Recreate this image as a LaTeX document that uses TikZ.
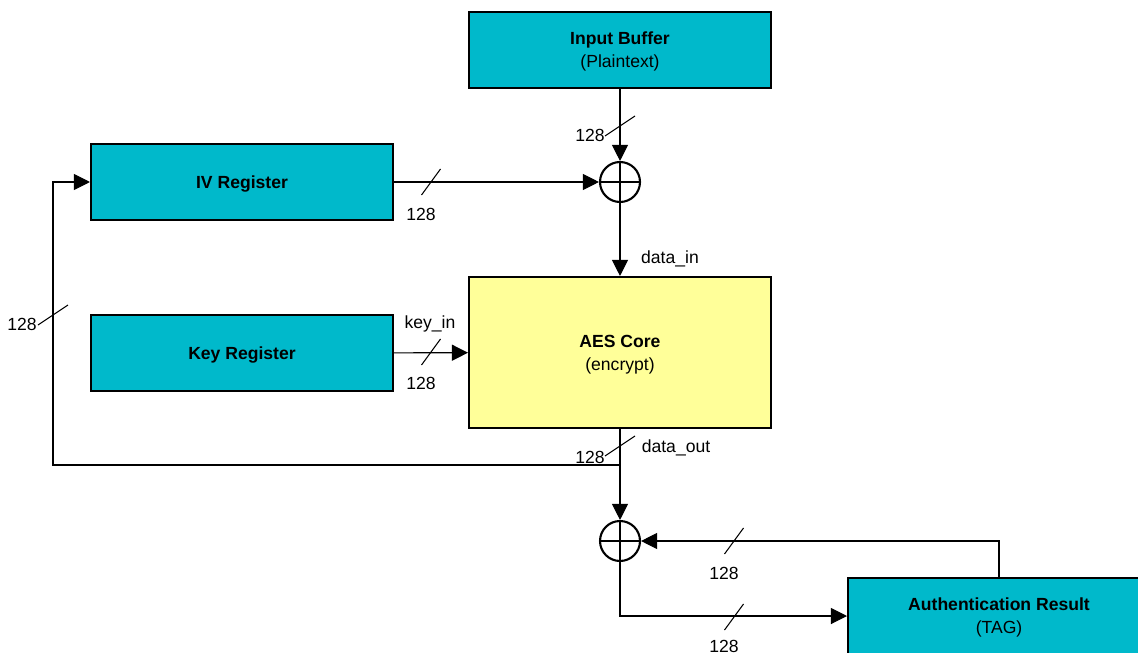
\documentclass[tikz,border=0pt]{standalone}
\usepackage{fontspec}
\setmainfont{Liberation Sans}
\usetikzlibrary{arrows.meta,positioning}
\definecolor{boxTeal}{HTML}{00B9CB}
\definecolor{coreYellow}{HTML}{FFFF99}

\begin{document}
\begin{tikzpicture}[
    x=0.02cm, y=-0.02cm,
    font=\fontsize{10}{13}\selectfont,
    block/.style={draw=black, line width=1.2pt, fill=boxTeal, minimum width=6.04cm,
        minimum height=1.52cm, align=center, inner sep=0pt, text depth=-1pt},
    core/.style={block, fill=coreYellow, minimum height=3.02cm},
    xor/.style={draw=black, circle, line width=1.2pt, minimum size=0.8cm, inner sep=0pt,
        path picture={\draw[line width=1pt]
            (path picture bounding box.north) -- (path picture bounding box.south)
            (path picture bounding box.west) -- (path picture bounding box.east);}},
    wire/.style={draw=black, line width=0.6pt, -{Triangle[length=3.2mm,width=3.2mm]}},
    bus/.style={draw=black, line width=0.6pt},
    width/.style={inner sep=0pt},
    signal/.style={inner sep=0pt}
]
\useasboundingbox (0,0) rectangle (1138,652);

% Blocks.
\node[block] (inbuf) at (620,50) {\textbf{Input Buffer}\\(Plaintext)};
\node[block] (iv) at (242,182) {\textbf{IV Register}};
\node[block] (key) at (242,353) {\textbf{Key Register}};
\node[core] (aes) at (620,352.5) {\textbf{AES Core}\\(encrypt)};
\node[block] (auth) at (999,616) {\textbf{Authentication Result}\\(TAG)};

% XOR stages.
\node[xor] (xor1) at (620,182) {};
\node[xor] (xor2) at (620,541) {};

% Helper points for the feedback loop.
\coordinate (tap) at (620,465);
\coordinate (fbcorner) at (53,465);

% Data path.
\draw[wire] (inbuf) -- (xor1);
\draw[wire] (iv) -- (xor1);
\draw[wire] (xor1) -- (aes);
\draw[wire] (key) -- (aes);
\draw[wire] (aes) -- (xor2);
\draw[wire] (tap) -- (fbcorner) |- (iv.west);
\draw[wire] (auth.north) |- (xor2.east);
\draw[wire] (xor2.south) |- (auth.west);

% Bus width marks.
\foreach \x/\y in {431/182, 431/352, 734/541, 734/617}
    \draw[bus] (\x-9.5,\y+13) -- (\x+9.5,\y-13);
\foreach \x/\y in {620/126, 620/446, 53/315}
    \draw[bus] (\x-15,\y+10) -- (\x+15,\y-10);

% Width labels.
\node[width] (wInbuf) at (590,135) {128};
\node[width] (wIv) at (421,214) {128};
\node[width] (wKey) at (421,383) {128};
\node[width] (wOut) at (590,457) {128};
\node[width] (wFb) at (22,324) {128};
\node[width] (wTag) at (724,573) {128};
\node[width] (wAuth) at (724,646) {128};

% Signal names.
\node[signal] (dataIn) at (670,259) {data\_in};
\node[signal] (keyIn) at (430,324) {key\_in};
\node[signal] (dataOut) at (676,448) {data\_out};

\end{tikzpicture}
\end{document}
